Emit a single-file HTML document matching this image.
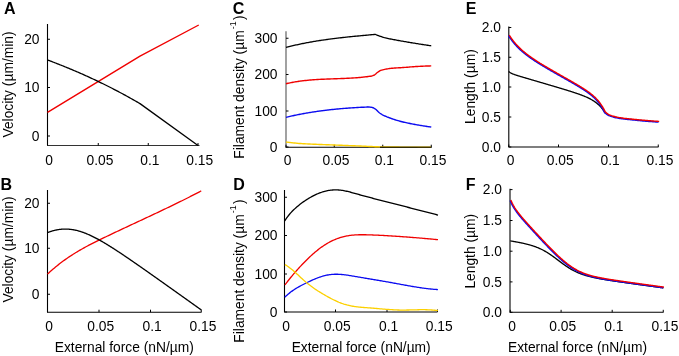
<!DOCTYPE html>
<html><head><meta charset="utf-8"><style>
html,body{margin:0;padding:0;background:#fff;width:679px;height:356px;overflow:hidden}
svg{display:block;will-change:transform}
text{font-family:"Liberation Sans", sans-serif;fill:#000}
</style></head><body>
<svg width="679" height="356" viewBox="0 0 679 356">
<text x="4.1" y="13.5" text-anchor="start" font-size="16" font-weight="bold" >A</text>
<line x1="47.5" y1="24" x2="47.5" y2="145.5" stroke="#000" stroke-width="1.1"/>
<line x1="47.0" y1="145.5" x2="199.5" y2="145.5" stroke="#333" stroke-width="1.1"/>
<line x1="47.5" y1="39.25" x2="50.0" y2="39.25" stroke="#000" stroke-width="1"/>
<line x1="47.5" y1="87.5" x2="50.0" y2="87.5" stroke="#000" stroke-width="1"/>
<line x1="47.5" y1="136.0" x2="50.0" y2="136.0" stroke="#000" stroke-width="1"/>
<line x1="47.5" y1="145.5" x2="47.5" y2="143.0" stroke="#000" stroke-width="1"/>
<line x1="98.25" y1="145.5" x2="98.25" y2="143.0" stroke="#000" stroke-width="1"/>
<line x1="148.25" y1="145.5" x2="148.25" y2="143.0" stroke="#000" stroke-width="1"/>
<line x1="198.0" y1="145.5" x2="198.0" y2="143.0" stroke="#000" stroke-width="1"/>
<text x="39.5" y="43.85" text-anchor="end" font-size="13.8" font-weight="normal" >20</text>
<text x="39.5" y="92.1" text-anchor="end" font-size="13.8" font-weight="normal" >10</text>
<text x="39.5" y="140.6" text-anchor="end" font-size="13.8" font-weight="normal" >0</text>
<text x="49.2" y="165.2" text-anchor="middle" font-size="13.8" font-weight="normal" >0</text>
<text x="99.95" y="165.2" text-anchor="middle" font-size="13.8" font-weight="normal" >0.05</text>
<text x="149.95" y="165.2" text-anchor="middle" font-size="13.8" font-weight="normal" >0.1</text>
<text x="199.7" y="165.2" text-anchor="middle" font-size="13.8" font-weight="normal" >0.15</text>
<path d="M47.50,112.40 L140.00,56.10 L198.75,25.00" fill="none" stroke="#f00000" stroke-width="1.4" stroke-linejoin="round" stroke-linecap="butt" />
<path d="M47.50,59.97 L48.50,60.34 L49.50,60.72 L50.50,61.10 L51.50,61.48 L52.50,61.86 L53.50,62.24 L54.50,62.63 L55.50,63.01 L56.50,63.40 L57.50,63.79 L58.50,64.18 L59.50,64.58 L60.50,64.98 L61.50,65.37 L62.50,65.77 L63.50,66.18 L64.50,66.58 L65.50,66.99 L66.50,67.40 L67.50,67.81 L68.50,68.22 L69.50,68.63 L70.50,69.05 L71.50,69.47 L72.50,69.89 L73.50,70.31 L74.50,70.74 L75.50,71.16 L76.50,71.59 L77.50,72.03 L78.50,72.46 L79.50,72.89 L80.50,73.33 L81.50,73.77 L82.50,74.21 L83.50,74.66 L84.50,75.11 L85.50,75.55 L86.50,76.01 L87.50,76.46 L88.50,76.91 L89.50,77.37 L90.50,77.83 L91.50,78.29 L92.50,78.76 L93.50,79.23 L94.50,79.69 L95.50,80.17 L96.50,80.64 L97.50,81.12 L98.50,81.59 L99.50,82.08 L100.50,82.56 L101.50,83.04 L102.50,83.53 L103.50,84.02 L104.50,84.52 L105.50,85.01 L106.50,85.51 L107.50,86.01 L108.50,86.51 L109.50,87.01 L110.50,87.52 L111.50,88.03 L112.50,88.54 L113.50,89.06 L114.50,89.58 L115.50,90.10 L116.50,90.62 L117.50,91.14 L118.50,91.67 L119.50,92.20 L120.50,92.73 L121.50,93.27 L122.50,93.80 L123.50,94.35 L124.50,94.89 L125.50,95.43 L126.50,95.98 L127.50,96.53 L128.50,97.08 L129.50,97.64 L130.50,98.20 L131.50,98.76 L132.50,99.32 L133.50,99.89 L134.50,100.46 L135.50,101.03 L136.50,101.61 L137.50,102.18 L138.50,102.76 L139.50,103.35 L140.00,103.64 L198,145.5" fill="none" stroke="#000" stroke-width="1.3" stroke-linejoin="round" stroke-linecap="butt" />
<text x="0" y="0" text-anchor="middle" font-size="13.8" transform="translate(12.8,84.5) rotate(-90)">Velocity (µm/min)</text>
<text x="0.4" y="189.6" text-anchor="start" font-size="16" font-weight="bold" >B</text>
<line x1="47.5" y1="190" x2="47.5" y2="312.2" stroke="#000" stroke-width="1.1"/>
<line x1="47.0" y1="312.2" x2="201.5" y2="312.2" stroke="#000" stroke-width="1.1"/>
<line x1="47.5" y1="203.25" x2="50.0" y2="203.25" stroke="#000" stroke-width="1"/>
<line x1="47.5" y1="248.25" x2="50.0" y2="248.25" stroke="#000" stroke-width="1"/>
<line x1="47.5" y1="294.25" x2="50.0" y2="294.25" stroke="#000" stroke-width="1"/>
<line x1="47.5" y1="312.2" x2="47.5" y2="309.7" stroke="#000" stroke-width="1"/>
<line x1="99.0" y1="312.2" x2="99.0" y2="309.7" stroke="#000" stroke-width="1"/>
<line x1="150.5" y1="312.2" x2="150.5" y2="309.7" stroke="#000" stroke-width="1"/>
<line x1="201.25" y1="312.2" x2="201.25" y2="309.7" stroke="#000" stroke-width="1"/>
<text x="39.5" y="207.85" text-anchor="end" font-size="13.8" font-weight="normal" >20</text>
<text x="39.5" y="252.85" text-anchor="end" font-size="13.8" font-weight="normal" >10</text>
<text x="39.5" y="298.85" text-anchor="end" font-size="13.8" font-weight="normal" >0</text>
<text x="49.2" y="331" text-anchor="middle" font-size="13.8" font-weight="normal" >0</text>
<text x="100.7" y="331" text-anchor="middle" font-size="13.8" font-weight="normal" >0.05</text>
<text x="152.2" y="331" text-anchor="middle" font-size="13.8" font-weight="normal" >0.1</text>
<text x="202.95" y="331" text-anchor="middle" font-size="13.8" font-weight="normal" >0.15</text>
<path d="M47.50,274.09 L48.50,273.16 L49.50,272.24 L50.50,271.34 L51.50,270.46 L52.50,269.58 L53.50,268.72 L54.50,267.88 L55.50,267.04 L56.50,266.23 L57.50,265.42 L58.50,264.63 L59.50,263.84 L60.50,263.07 L61.50,262.32 L62.50,261.57 L63.50,260.84 L64.50,260.11 L65.50,259.40 L66.50,258.70 L67.50,258.01 L68.50,257.32 L69.50,256.65 L70.50,255.99 L71.50,255.34 L72.50,254.69 L73.50,254.06 L74.50,253.43 L75.50,252.82 L76.50,252.21 L77.50,251.61 L78.50,251.01 L79.50,250.43 L80.50,249.85 L81.50,249.27 L82.50,248.71 L83.50,248.15 L84.50,247.60 L85.50,247.05 L86.50,246.51 L87.50,245.97 L88.50,245.44 L89.50,244.91 L90.50,244.39 L91.50,243.88 L92.50,243.36 L93.50,242.86 L94.50,242.35 L95.50,241.85 L96.50,241.35 L97.50,240.86 L98.50,240.36 L99.50,239.87 L100.50,239.39 L101.50,238.90 L102.50,238.42 L103.50,237.93 L104.50,237.45 L105.50,236.97 L106.50,236.49 L107.50,236.01 L108.50,235.54 L109.50,235.06 L110.50,234.58 L111.50,234.11 L112.50,233.63 L113.50,233.16 L114.50,232.69 L115.50,232.21 L116.50,231.74 L117.50,231.27 L118.50,230.80 L119.50,230.33 L120.50,229.86 L121.50,229.39 L122.50,228.92 L123.50,228.45 L124.50,227.98 L125.50,227.51 L126.50,227.04 L127.50,226.58 L128.50,226.11 L129.50,225.64 L130.50,225.18 L131.50,224.71 L132.50,224.24 L133.50,223.78 L134.50,223.31 L135.50,222.84 L136.50,222.38 L137.50,221.91 L138.50,221.44 L139.50,220.98 L140.50,220.51 L141.50,220.04 L142.50,219.58 L143.50,219.11 L144.50,218.64 L145.50,218.18 L146.50,217.71 L147.50,217.24 L148.50,216.77 L149.50,216.30 L150.50,215.83 L151.50,215.36 L152.50,214.89 L153.50,214.42 L154.50,213.95 L155.50,213.48 L156.50,213.01 L157.50,212.54 L158.50,212.07 L159.50,211.59 L160.50,211.12 L161.50,210.64 L162.50,210.17 L163.50,209.69 L164.50,209.21 L165.50,208.74 L166.50,208.26 L167.50,207.78 L168.50,207.30 L169.50,206.82 L170.50,206.33 L171.50,205.85 L172.50,205.37 L173.50,204.88 L174.50,204.39 L175.50,203.91 L176.50,203.42 L177.50,202.93 L178.50,202.44 L179.50,201.95 L180.50,201.45 L181.50,200.96 L182.50,200.46 L183.50,199.97 L184.50,199.47 L185.50,198.97 L186.50,198.47 L187.50,197.96 L188.50,197.46 L189.50,196.96 L190.50,196.45 L191.50,195.94 L192.50,195.43 L193.50,194.92 L194.50,194.41 L195.50,193.89 L196.50,193.37 L197.50,192.86 L198.50,192.34 L199.50,191.81 L200.50,191.29 L201.25,190.90" fill="none" stroke="#f00000" stroke-width="1.3" stroke-linejoin="round" stroke-linecap="butt" />
<path d="M47.80,232.48 L48.30,232.30 L48.80,232.11 L49.30,231.94 L49.80,231.76 L50.30,231.60 L50.80,231.44 L51.30,231.28 L51.80,231.13 L52.30,230.98 L52.80,230.84 L53.30,230.70 L53.80,230.57 L54.30,230.44 L54.80,230.32 L55.30,230.20 L55.80,230.09 L56.30,229.99 L56.80,229.89 L57.30,229.80 L57.80,229.71 L58.30,229.62 L58.80,229.55 L59.30,229.47 L59.80,229.41 L60.30,229.35 L60.80,229.29 L61.30,229.24 L61.80,229.20 L62.30,229.16 L62.80,229.13 L63.30,229.10 L63.80,229.08 L64.30,229.07 L64.80,229.06 L65.30,229.06 L65.80,229.06 L66.30,229.06 L66.80,229.08 L67.30,229.10 L67.80,229.12 L68.30,229.15 L68.80,229.19 L69.30,229.23 L69.80,229.28 L70.30,229.33 L70.80,229.39 L71.30,229.45 L71.80,229.52 L72.30,229.59 L72.80,229.67 L73.30,229.76 L73.80,229.84 L74.30,229.94 L74.80,230.04 L75.30,230.14 L75.80,230.25 L76.30,230.37 L76.80,230.49 L77.30,230.61 L77.80,230.74 L78.30,230.88 L78.80,231.02 L79.30,231.16 L79.80,231.31 L80.30,231.46 L80.80,231.62 L81.30,231.78 L81.80,231.95 L82.30,232.12 L82.80,232.29 L83.30,232.47 L83.80,232.65 L84.30,232.84 L84.80,233.03 L85.30,233.22 L85.80,233.42 L86.30,233.62 L86.80,233.83 L87.30,234.04 L87.80,234.25 L88.30,234.47 L88.80,234.68 L89.30,234.91 L89.80,235.13 L90.30,235.36 L90.80,235.60 L91.30,235.83 L91.80,236.07 L92.30,236.31 L92.80,236.56 L93.30,236.80 L93.80,237.05 L94.30,237.30 L94.80,237.56 L95.30,237.82 L95.80,238.08 L96.30,238.34 L96.80,238.61 L97.30,238.87 L97.80,239.14 L98.30,239.42 L98.80,239.69 L99.30,239.97 L99.80,240.25 L100.30,240.53 L100.80,240.81 L101.30,241.10 L101.80,241.38 L102.30,241.67 L102.80,241.96 L103.30,242.25 L103.80,242.55 L104.30,242.84 L104.80,243.14 L105.30,243.44 L105.80,243.74 L106.30,244.04 L106.80,244.35 L107.30,244.65 L107.80,244.96 L108.30,245.27 L108.80,245.58 L109.30,245.89 L109.80,246.20 L110.30,246.51 L110.80,246.83 L111.30,247.14 L111.80,247.46 L112.30,247.78 L112.80,248.09 L113.30,248.41 L113.80,248.74 L114.30,249.06 L114.80,249.38 L115.30,249.70 L115.80,250.03 L116.30,250.35 L116.80,250.68 L117.30,251.01 L117.80,251.34 L118.30,251.67 L118.80,252.00 L119.30,252.33 L119.80,252.66 L120.30,252.99 L120.80,253.32 L121.30,253.66 L121.80,253.99 L122.30,254.33 L122.80,254.66 L123.30,255.00 L123.80,255.33 L124.30,255.67 L124.80,256.01 L125.30,256.35 L125.80,256.69 L126.30,257.02 L126.80,257.36 L127.30,257.70 L127.80,258.05 L128.30,258.39 L128.80,258.73 L129.30,259.07 L129.80,259.41 L130.30,259.76 L130.80,260.10 L131.30,260.44 L131.80,260.79 L132.30,261.13 L132.80,261.48 L133.30,261.82 L133.80,262.17 L134.30,262.51 L134.80,262.86 L135.30,263.21 L135.80,263.55 L136.30,263.90 L136.80,264.25 L137.30,264.59 L137.80,264.94 L138.30,265.29 L138.80,265.64 L139.30,265.99 L139.80,266.34 L140.30,266.68 L140.80,267.03 L141.30,267.38 L141.80,267.73 L142.30,268.08 L142.80,268.43 L143.30,268.78 L143.80,269.13 L144.30,269.48 L144.80,269.83 L145.30,270.19 L145.80,270.54 L146.30,270.89 L146.80,271.24 L147.30,271.59 L147.80,271.94 L148.30,272.29 L148.80,272.65 L149.30,273.00 L149.80,273.35 L150.30,273.70 L150.80,274.06 L151.30,274.41 L151.80,274.76 L152.30,275.11 L152.80,275.47 L153.30,275.82 L153.80,276.17 L154.30,276.53 L154.80,276.88 L155.30,277.23 L155.80,277.59 L156.30,277.94 L156.80,278.30 L157.30,278.65 L157.80,279.00 L158.30,279.36 L158.80,279.71 L159.30,280.07 L159.80,280.42 L160.30,280.77 L160.80,281.13 L161.30,281.48 L161.80,281.84 L162.30,282.19 L162.80,282.55 L163.30,282.90 L163.80,283.26 L164.30,283.61 L164.80,283.97 L165.30,284.32 L165.80,284.68 L166.30,285.03 L166.80,285.39 L167.30,285.74 L167.80,286.10 L168.30,286.45 L168.80,286.81 L169.30,287.16 L169.80,287.52 L170.30,287.87 L170.80,288.23 L171.30,288.58 L171.80,288.94 L172.30,289.29 L172.80,289.65 L173.30,290.00 L173.80,290.36 L174.30,290.72 L174.80,291.07 L175.30,291.43 L175.80,291.78 L176.30,292.14 L176.80,292.49 L177.30,292.85 L177.80,293.21 L178.30,293.56 L178.80,293.92 L179.30,294.27 L179.80,294.63 L180.30,294.99 L180.80,295.34 L181.30,295.70 L181.80,296.05 L182.30,296.41 L182.80,296.77 L183.30,297.12 L183.80,297.48 L184.30,297.83 L184.80,298.19 L185.30,298.55 L185.80,298.90 L186.30,299.26 L186.80,299.61 L187.30,299.97 L187.80,300.33 L188.30,300.68 L188.80,301.04 L189.30,301.39 L189.80,301.75 L190.30,302.11 L190.80,302.46 L191.30,302.82 L191.80,303.18 L192.30,303.53 L192.80,303.89 L193.30,304.24 L193.80,304.60 L194.30,304.96 L194.80,305.31 L195.30,305.67 L195.80,306.03 L196.30,306.38 L196.80,306.74 L197.30,307.10 L197.80,307.45 L198.30,307.81 L198.80,308.16 L199.30,308.52 L199.80,308.88 L200.30,309.23 L200.80,309.59 L201.30,309.95" fill="none" stroke="#000" stroke-width="1.3" stroke-linejoin="round" stroke-linecap="butt" />
<text x="0" y="0" text-anchor="middle" font-size="13.8" transform="translate(12.8,249.5) rotate(-90)">Velocity (µm/min)</text>
<text x="124.3" y="352" text-anchor="middle" font-size="13.8" font-weight="normal" >External force (nN/µm)</text>
<text x="232.8" y="13.5" text-anchor="start" font-size="16" font-weight="bold" >C</text>
<line x1="286" y1="31.25" x2="286" y2="147.2" stroke="#555" stroke-width="1.1"/>
<line x1="285.5" y1="147.2" x2="431.5" y2="147.2" stroke="#000" stroke-width="1.1"/>
<line x1="286" y1="38.25" x2="288.5" y2="38.25" stroke="#000" stroke-width="1"/>
<line x1="286" y1="74.5" x2="288.5" y2="74.5" stroke="#000" stroke-width="1"/>
<line x1="286" y1="111.0" x2="288.5" y2="111.0" stroke="#000" stroke-width="1"/>
<line x1="286" y1="147.0" x2="288.5" y2="147.0" stroke="#000" stroke-width="1"/>
<line x1="286" y1="147.2" x2="286" y2="144.7" stroke="#000" stroke-width="1"/>
<line x1="334.25" y1="147.2" x2="334.25" y2="144.7" stroke="#000" stroke-width="1"/>
<line x1="382.75" y1="147.2" x2="382.75" y2="144.7" stroke="#000" stroke-width="1"/>
<line x1="431.25" y1="147.2" x2="431.25" y2="144.7" stroke="#000" stroke-width="1"/>
<text x="277.5" y="42.85" text-anchor="end" font-size="13.8" font-weight="normal" >300</text>
<text x="277.5" y="79.1" text-anchor="end" font-size="13.8" font-weight="normal" >200</text>
<text x="277.5" y="115.6" text-anchor="end" font-size="13.8" font-weight="normal" >100</text>
<text x="277.5" y="151.6" text-anchor="end" font-size="13.8" font-weight="normal" >0</text>
<text x="287.7" y="165.2" text-anchor="middle" font-size="13.8" font-weight="normal" >0</text>
<text x="335.95" y="165.2" text-anchor="middle" font-size="13.8" font-weight="normal" >0.05</text>
<text x="384.45" y="165.2" text-anchor="middle" font-size="13.8" font-weight="normal" >0.1</text>
<text x="432.95" y="165.2" text-anchor="middle" font-size="13.8" font-weight="normal" >0.15</text>
<path d="M286.00,47.42 L287.00,47.16 L288.00,46.90 L289.00,46.65 L290.00,46.40 L291.00,46.16 L292.00,45.92 L293.00,45.68 L294.00,45.45 L295.00,45.22 L296.00,44.99 L297.00,44.77 L298.00,44.55 L299.00,44.33 L300.00,44.12 L301.00,43.91 L302.00,43.71 L303.00,43.50 L304.00,43.30 L305.00,43.11 L306.00,42.91 L307.00,42.72 L308.00,42.54 L309.00,42.35 L310.00,42.17 L311.00,41.99 L312.00,41.82 L313.00,41.64 L314.00,41.47 L315.00,41.31 L316.00,41.14 L317.00,40.98 L318.00,40.82 L319.00,40.66 L320.00,40.51 L321.00,40.35 L322.00,40.20 L323.00,40.06 L324.00,39.91 L325.00,39.77 L326.00,39.63 L327.00,39.49 L328.00,39.35 L329.00,39.21 L330.00,39.08 L331.00,38.95 L332.00,38.82 L333.00,38.69 L334.00,38.57 L335.00,38.44 L336.00,38.32 L337.00,38.20 L338.00,38.08 L339.00,37.97 L340.00,37.85 L341.00,37.74 L342.00,37.62 L343.00,37.51 L344.00,37.40 L345.00,37.29 L346.00,37.19 L347.00,37.08 L348.00,36.97 L349.00,36.87 L350.00,36.77 L351.00,36.67 L352.00,36.56 L353.00,36.46 L354.00,36.37 L355.00,36.27 L356.00,36.17 L357.00,36.07 L358.00,35.98 L359.00,35.88 L360.00,35.79 L361.00,35.69 L362.00,35.60 L363.00,35.51 L364.00,35.41 L365.00,35.32 L366.00,35.23 L367.00,35.14 L368.00,35.05 L369.00,34.95 L370.00,34.86 L371.00,34.77 L372.00,34.68 L373.00,34.59 L374.00,34.50 L375.00,34.41 L375.50,34.36 L375.50,34.50 L376.50,34.90 L377.50,35.29 L378.50,35.66 L379.50,36.02 L380.50,36.37 L381.50,36.72 L382.50,37.06 L383.50,37.38 L384.50,37.67 L385.50,37.93 L386.50,38.17 L387.50,38.39 L388.50,38.61 L389.50,38.81 L390.50,39.01 L391.50,39.20 L392.50,39.39 L393.50,39.57 L394.50,39.75 L395.50,39.93 L396.50,40.11 L397.50,40.30 L398.50,40.49 L399.50,40.67 L400.50,40.85 L401.50,41.03 L402.50,41.21 L403.50,41.38 L404.50,41.55 L405.50,41.73 L406.50,41.90 L407.50,42.07 L408.50,42.24 L409.50,42.40 L410.50,42.57 L411.50,42.74 L412.50,42.90 L413.50,43.06 L414.50,43.23 L415.50,43.39 L416.50,43.55 L417.50,43.71 L418.50,43.86 L419.50,44.02 L420.50,44.18 L421.50,44.33 L422.50,44.49 L423.50,44.64 L424.50,44.79 L425.50,44.95 L426.50,45.10 L427.50,45.25 L428.50,45.40 L429.50,45.54 L430.50,45.69 L431.25,45.80" fill="none" stroke="#000" stroke-width="1.3" stroke-linejoin="round" stroke-linecap="butt" />
<path d="M286.00,83.74 L287.00,83.51 L288.00,83.28 L289.00,83.07 L290.00,82.86 L291.00,82.65 L292.00,82.46 L293.00,82.27 L294.00,82.09 L295.00,81.92 L296.00,81.76 L297.00,81.60 L298.00,81.44 L299.00,81.30 L300.00,81.16 L301.00,81.02 L302.00,80.89 L303.00,80.77 L304.00,80.65 L305.00,80.54 L306.00,80.43 L307.00,80.33 L308.00,80.23 L309.00,80.14 L310.00,80.05 L311.00,79.97 L312.00,79.89 L313.00,79.81 L314.00,79.74 L315.00,79.67 L316.00,79.60 L317.00,79.54 L318.00,79.48 L319.00,79.42 L320.00,79.37 L321.00,79.32 L322.00,79.27 L323.00,79.22 L324.00,79.18 L325.00,79.13 L326.00,79.09 L327.00,79.05 L328.00,79.01 L329.00,78.98 L330.00,78.94 L331.00,78.90 L332.00,78.87 L333.00,78.83 L334.00,78.80 L335.00,78.76 L336.00,78.73 L337.00,78.69 L338.00,78.66 L339.00,78.62 L340.00,78.59 L341.00,78.55 L342.00,78.51 L343.00,78.47 L344.00,78.43 L345.00,78.38 L346.00,78.34 L347.00,78.29 L348.00,78.24 L349.00,78.19 L350.00,78.14 L351.00,78.08 L352.00,78.02 L353.00,77.96 L354.00,77.90 L355.00,77.83 L356.00,77.75 L357.00,77.68 L358.00,77.60 L359.00,77.51 L360.00,77.43 L361.00,77.33 L362.00,77.24 L363.00,77.14 L364.00,77.03 L365.00,76.92 L366.00,76.80 L367.00,76.68 L368.00,76.55 L369.00,76.42 L369.70,76.32 L369.70,76.30 L370.70,76.22 L371.70,75.99 L372.70,75.66 L373.70,75.27 L374.70,74.76 L375.70,73.91 L376.70,73.01 L377.70,72.27 L378.70,71.57 L379.70,70.93 L380.70,70.44 L381.70,70.09 L382.70,69.81 L383.70,69.57 L384.70,69.36 L385.70,69.17 L386.70,68.99 L387.70,68.83 L388.70,68.68 L389.70,68.54 L390.70,68.42 L391.70,68.31 L392.70,68.22 L393.70,68.13 L394.70,68.05 L395.70,67.98 L396.70,67.92 L397.70,67.85 L398.70,67.79 L399.70,67.73 L400.70,67.68 L401.70,67.62 L402.70,67.56 L403.70,67.49 L404.70,67.42 L405.70,67.35 L406.70,67.27 L407.70,67.18 L408.70,67.09 L409.70,67.01 L410.70,66.92 L411.70,66.83 L412.70,66.76 L413.70,66.68 L414.70,66.62 L415.70,66.56 L416.70,66.50 L417.70,66.45 L418.70,66.39 L419.70,66.34 L420.70,66.29 L421.70,66.24 L422.70,66.19 L423.70,66.15 L424.70,66.11 L425.70,66.07 L426.70,66.03 L427.70,65.99 L428.70,65.96 L429.70,65.94 L430.70,65.91 L431.25,65.90" fill="none" stroke="#f00000" stroke-width="1.4" stroke-linejoin="round" stroke-linecap="butt" />
<path d="M286.00,117.31 L287.00,117.07 L288.00,116.84 L289.00,116.61 L290.00,116.38 L291.00,116.16 L292.00,115.94 L293.00,115.72 L294.00,115.51 L295.00,115.30 L296.00,115.09 L297.00,114.88 L298.00,114.68 L299.00,114.49 L300.00,114.29 L301.00,114.10 L302.00,113.91 L303.00,113.72 L304.00,113.54 L305.00,113.36 L306.00,113.18 L307.00,113.01 L308.00,112.84 L309.00,112.67 L310.00,112.50 L311.00,112.34 L312.00,112.18 L313.00,112.02 L314.00,111.87 L315.00,111.72 L316.00,111.57 L317.00,111.42 L318.00,111.28 L319.00,111.14 L320.00,111.00 L321.00,110.86 L322.00,110.73 L323.00,110.60 L324.00,110.47 L325.00,110.35 L326.00,110.22 L327.00,110.10 L328.00,109.99 L329.00,109.87 L330.00,109.76 L331.00,109.65 L332.00,109.54 L333.00,109.43 L334.00,109.33 L335.00,109.23 L336.00,109.13 L337.00,109.03 L338.00,108.93 L339.00,108.84 L340.00,108.75 L341.00,108.66 L342.00,108.58 L343.00,108.49 L344.00,108.41 L345.00,108.33 L346.00,108.25 L347.00,108.18 L348.00,108.10 L349.00,108.03 L350.00,107.96 L351.00,107.90 L352.00,107.83 L353.00,107.77 L354.00,107.70 L355.00,107.64 L356.00,107.58 L357.00,107.53 L358.00,107.47 L359.00,107.42 L360.00,107.37 L361.00,107.32 L362.00,107.27 L363.00,107.22 L364.00,107.18 L365.00,107.14 L366.00,107.10 L367.00,107.06 L368.00,107.02 L368.00,107.00 L369.00,107.03 L370.00,107.11 L371.00,107.23 L372.00,107.40 L373.00,107.75 L374.00,108.24 L375.00,108.80 L376.00,109.54 L377.00,110.51 L378.00,111.54 L379.00,112.50 L380.00,113.25 L381.00,113.91 L382.00,114.51 L383.00,115.05 L384.00,115.54 L385.00,116.01 L386.00,116.45 L387.00,116.87 L388.00,117.26 L389.00,117.65 L390.00,118.02 L391.00,118.38 L392.00,118.73 L393.00,119.08 L394.00,119.41 L395.00,119.73 L396.00,120.05 L397.00,120.35 L398.00,120.65 L399.00,120.93 L400.00,121.20 L401.00,121.46 L402.00,121.72 L403.00,121.97 L404.00,122.21 L405.00,122.44 L406.00,122.66 L407.00,122.88 L408.00,123.10 L409.00,123.30 L410.00,123.50 L411.00,123.69 L412.00,123.89 L413.00,124.08 L414.00,124.27 L415.00,124.45 L416.00,124.64 L417.00,124.82 L418.00,125.00 L419.00,125.17 L420.00,125.34 L421.00,125.51 L422.00,125.68 L423.00,125.84 L424.00,126.00 L425.00,126.15 L426.00,126.30 L427.00,126.44 L428.00,126.58 L429.00,126.72 L430.00,126.85 L431.00,126.97 L431.25,127.00" fill="none" stroke="#0a0af0" stroke-width="1.4" stroke-linejoin="round" stroke-linecap="butt" />
<path d="M286.00,142.00 L287.00,142.13 L288.00,142.25 L289.00,142.38 L290.00,142.50 L291.00,142.62 L292.00,142.74 L293.00,142.85 L294.00,142.96 L295.00,143.07 L296.00,143.17 L297.00,143.26 L298.00,143.35 L299.00,143.43 L300.00,143.50 L301.00,143.57 L302.00,143.63 L303.00,143.69 L304.00,143.75 L305.00,143.80 L306.00,143.86 L307.00,143.91 L308.00,143.96 L309.00,144.01 L310.00,144.06 L311.00,144.10 L312.00,144.15 L313.00,144.19 L314.00,144.24 L315.00,144.28 L316.00,144.32 L317.00,144.36 L318.00,144.40 L319.00,144.44 L320.00,144.47 L321.00,144.51 L322.00,144.55 L323.00,144.58 L324.00,144.62 L325.00,144.66 L326.00,144.69 L327.00,144.73 L328.00,144.77 L329.00,144.80 L330.00,144.84 L331.00,144.88 L332.00,144.92 L333.00,144.96 L334.00,145.00 L335.00,145.04 L336.00,145.08 L337.00,145.12 L338.00,145.16 L339.00,145.20 L340.00,145.24 L341.00,145.28 L342.00,145.32 L343.00,145.35 L344.00,145.39 L345.00,145.43 L346.00,145.47 L347.00,145.50 L348.00,145.54 L349.00,145.58 L350.00,145.62 L351.00,145.65 L352.00,145.69 L353.00,145.73 L354.00,145.77 L355.00,145.81 L356.00,145.84 L357.00,145.88 L358.00,145.92 L359.00,145.96 L360.00,146.00 L361.00,146.04 L362.00,146.08 L363.00,146.13 L364.00,146.18 L365.00,146.23 L366.00,146.28 L367.00,146.33 L368.00,146.38 L369.00,146.43 L370.00,146.48 L371.00,146.53 L372.00,146.57 L373.00,146.62 L374.00,146.66 L375.00,146.71 L376.00,146.75 L377.00,146.78 L378.00,146.81 L379.00,146.84 L380.00,146.87 L381.00,146.89 L382.00,146.90 L383.00,146.91 L384.00,146.92 L385.00,146.93 L386.00,146.95 L387.00,146.96 L388.00,146.97 L389.00,146.98 L390.00,146.99 L391.00,147.00 L392.00,147.01 L393.00,147.02 L394.00,147.03 L395.00,147.03 L396.00,147.04 L397.00,147.05 L398.00,147.06 L399.00,147.07 L400.00,147.08 L401.00,147.08 L402.00,147.09 L403.00,147.10 L404.00,147.11 L405.00,147.11 L406.00,147.12 L407.00,147.13 L408.00,147.13 L409.00,147.14 L410.00,147.14 L411.00,147.15 L412.00,147.15 L413.00,147.16 L414.00,147.16 L415.00,147.17 L416.00,147.17 L417.00,147.17 L418.00,147.18 L419.00,147.18 L420.00,147.18 L421.00,147.19 L422.00,147.19 L423.00,147.19 L424.00,147.19 L425.00,147.20 L426.00,147.20 L427.00,147.20 L428.00,147.20 L429.00,147.20 L430.00,147.20 L431.00,147.20" fill="none" stroke="#fcd000" stroke-width="1.4" stroke-linejoin="round" stroke-linecap="butt" />
<line x1="380" y1="147.2" x2="431.5" y2="147.2" stroke="#000" stroke-width="1.1"/>
<text x="0" y="0" text-anchor="middle" font-size="13.8" transform="translate(243.8,87) rotate(-90)">Filament density (µm<tspan dx='1.2' dy='-8' font-size='9'>-1</tspan><tspan dx='1.2' dy='8'>)</tspan></text>
<text x="233.3" y="189.8" text-anchor="start" font-size="16" font-weight="bold" >D</text>
<line x1="284.5" y1="190" x2="284.5" y2="312" stroke="#000" stroke-width="1.1"/>
<line x1="284.0" y1="312" x2="437.5" y2="312" stroke="#000" stroke-width="1.1"/>
<line x1="284.5" y1="197.25" x2="287.0" y2="197.25" stroke="#000" stroke-width="1"/>
<line x1="284.5" y1="235.5" x2="287.0" y2="235.5" stroke="#000" stroke-width="1"/>
<line x1="284.5" y1="274.0" x2="287.0" y2="274.0" stroke="#000" stroke-width="1"/>
<line x1="284.5" y1="312.0" x2="287.0" y2="312.0" stroke="#000" stroke-width="1"/>
<line x1="284.5" y1="312" x2="284.5" y2="309.5" stroke="#000" stroke-width="1"/>
<line x1="335.5" y1="312" x2="335.5" y2="309.5" stroke="#000" stroke-width="1"/>
<line x1="387.0" y1="312" x2="387.0" y2="309.5" stroke="#000" stroke-width="1"/>
<line x1="437.5" y1="312" x2="437.5" y2="309.5" stroke="#000" stroke-width="1"/>
<text x="277.5" y="201.85" text-anchor="end" font-size="13.8" font-weight="normal" >300</text>
<text x="277.5" y="240.1" text-anchor="end" font-size="13.8" font-weight="normal" >200</text>
<text x="277.5" y="278.6" text-anchor="end" font-size="13.8" font-weight="normal" >100</text>
<text x="277.5" y="316.6" text-anchor="end" font-size="13.8" font-weight="normal" >0</text>
<text x="286.2" y="331" text-anchor="middle" font-size="13.8" font-weight="normal" >0</text>
<text x="337.2" y="331" text-anchor="middle" font-size="13.8" font-weight="normal" >0.05</text>
<text x="388.7" y="331" text-anchor="middle" font-size="13.8" font-weight="normal" >0.1</text>
<text x="439.2" y="331" text-anchor="middle" font-size="13.8" font-weight="normal" >0.15</text>
<path d="M284.70,221.00 L285.70,219.42 L286.70,217.94 L287.70,216.56 L288.70,215.26 L289.70,214.05 L290.70,212.90 L291.70,211.82 L292.70,210.80 L293.70,209.82 L294.70,208.88 L295.70,207.97 L296.70,207.08 L297.70,206.23 L298.70,205.39 L299.70,204.59 L300.70,203.81 L301.70,203.05 L302.70,202.31 L303.70,201.60 L304.70,200.91 L305.70,200.24 L306.70,199.59 L307.70,198.96 L308.70,198.36 L309.70,197.77 L310.70,197.20 L311.70,196.65 L312.70,196.12 L313.70,195.61 L314.70,195.11 L315.70,194.64 L316.70,194.19 L317.70,193.76 L318.70,193.35 L319.70,192.96 L320.70,192.60 L321.70,192.25 L322.70,191.93 L323.70,191.63 L324.70,191.35 L325.70,191.10 L326.70,190.87 L327.70,190.66 L328.70,190.48 L329.70,190.32 L330.70,190.19 L331.70,190.08 L332.70,189.99 L333.70,189.93 L334.70,189.89 L335.70,189.87 L336.70,189.88 L337.70,189.92 L338.70,189.98 L339.70,190.06 L340.70,190.17 L341.70,190.30 L342.70,190.45 L343.70,190.63 L344.70,190.82 L345.70,191.03 L346.70,191.25 L347.70,191.48 L348.70,191.73 L349.70,191.99 L350.70,192.25 L351.70,192.53 L352.70,192.80 L353.70,193.08 L354.70,193.36 L355.70,193.64 L356.70,193.92 L357.70,194.20 L358.70,194.47 L359.70,194.75 L360.70,195.02 L361.70,195.30 L362.70,195.57 L363.70,195.84 L364.70,196.11 L365.70,196.38 L366.70,196.65 L367.70,196.92 L368.70,197.19 L369.70,197.46 L370.70,197.72 L371.70,197.99 L372.70,198.25 L373.70,198.52 L374.70,198.78 L375.70,199.04 L376.70,199.30 L377.70,199.57 L378.70,199.83 L379.70,200.09 L380.70,200.35 L381.70,200.61 L382.70,200.86 L383.70,201.12 L384.70,201.38 L385.70,201.64 L386.70,201.90 L387.70,202.15 L388.70,202.41 L389.70,202.66 L390.70,202.92 L391.70,203.18 L392.70,203.43 L393.70,203.69 L394.70,203.94 L395.70,204.20 L396.70,204.45 L397.70,204.70 L398.70,204.96 L399.70,205.21 L400.70,205.47 L401.70,205.72 L402.70,205.97 L403.70,206.23 L404.70,206.48 L405.70,206.74 L406.70,206.99 L407.70,207.25 L408.70,207.50 L409.70,207.75 L410.70,208.01 L411.70,208.26 L412.70,208.52 L413.70,208.77 L414.70,209.03 L415.70,209.28 L416.70,209.54 L417.70,209.80 L418.70,210.05 L419.70,210.31 L420.70,210.57 L421.70,210.82 L422.70,211.08 L423.70,211.34 L424.70,211.60 L425.70,211.86 L426.70,212.12 L427.70,212.38 L428.70,212.64 L429.70,212.90 L430.70,213.17 L431.70,213.43 L432.70,213.69 L433.70,213.96 L434.70,214.22 L435.70,214.49 L436.70,214.75 L437.70,215.02 L438.00,215.10" fill="none" stroke="#000" stroke-width="1.3" stroke-linejoin="round" stroke-linecap="butt" />
<path d="M284.90,284.89 L285.90,283.58 L286.90,282.29 L287.90,281.01 L288.90,279.75 L289.90,278.50 L290.90,277.27 L291.90,276.06 L292.90,274.86 L293.90,273.68 L294.90,272.51 L295.90,271.36 L296.90,270.22 L297.90,269.10 L298.90,268.00 L299.90,266.91 L300.90,265.83 L301.90,264.77 L302.90,263.72 L303.90,262.69 L304.90,261.67 L305.90,260.67 L306.90,259.68 L307.90,258.70 L308.90,257.74 L309.90,256.80 L310.90,255.87 L311.90,254.96 L312.90,254.07 L313.90,253.19 L314.90,252.33 L315.90,251.49 L316.90,250.67 L317.90,249.87 L318.90,249.09 L319.90,248.33 L320.90,247.59 L321.90,246.87 L322.90,246.17 L323.90,245.50 L324.90,244.85 L325.90,244.22 L326.90,243.61 L327.90,243.03 L328.90,242.46 L329.90,241.92 L330.90,241.41 L331.90,240.91 L332.90,240.44 L333.90,239.99 L334.90,239.55 L335.90,239.14 L336.90,238.75 L337.90,238.38 L338.90,238.03 L339.90,237.71 L340.90,237.40 L341.90,237.11 L342.90,236.84 L343.90,236.59 L344.90,236.35 L345.90,236.14 L346.90,235.95 L347.90,235.77 L348.90,235.61 L349.90,235.46 L350.90,235.33 L351.90,235.22 L352.90,235.12 L353.90,235.03 L354.90,234.95 L355.90,234.89 L356.90,234.84 L357.90,234.80 L358.90,234.77 L359.90,234.75 L360.90,234.73 L361.90,234.73 L362.90,234.73 L363.90,234.74 L364.90,234.75 L365.90,234.77 L366.90,234.80 L367.90,234.82 L368.90,234.85 L369.90,234.89 L370.90,234.92 L371.90,234.96 L372.90,235.00 L373.90,235.04 L374.90,235.08 L375.90,235.12 L376.90,235.16 L377.90,235.21 L378.90,235.26 L379.90,235.31 L380.90,235.36 L381.90,235.41 L382.90,235.46 L383.90,235.51 L384.90,235.57 L385.90,235.62 L386.90,235.68 L387.90,235.74 L388.90,235.80 L389.90,235.86 L390.90,235.92 L391.90,235.98 L392.90,236.05 L393.90,236.11 L394.90,236.18 L395.90,236.24 L396.90,236.31 L397.90,236.38 L398.90,236.45 L399.90,236.51 L400.90,236.58 L401.90,236.66 L402.90,236.73 L403.90,236.80 L404.90,236.87 L405.90,236.95 L406.90,237.02 L407.90,237.09 L408.90,237.17 L409.90,237.25 L410.90,237.32 L411.90,237.40 L412.90,237.48 L413.90,237.56 L414.90,237.64 L415.90,237.72 L416.90,237.80 L417.90,237.88 L418.90,237.97 L419.90,238.05 L420.90,238.14 L421.90,238.22 L422.90,238.31 L423.90,238.39 L424.90,238.48 L425.90,238.57 L426.90,238.66 L427.90,238.75 L428.90,238.84 L429.90,238.93 L430.90,239.02 L431.90,239.12 L432.90,239.21 L433.90,239.30 L434.90,239.40 L435.90,239.50 L436.90,239.59 L437.90,239.69 L438.00,239.70" fill="none" stroke="#f00000" stroke-width="1.3" stroke-linejoin="round" stroke-linecap="butt" />
<path d="M284.70,297.30 L285.70,296.33 L286.70,295.41 L287.70,294.53 L288.70,293.68 L289.70,292.87 L290.70,292.10 L291.70,291.35 L292.70,290.64 L293.70,289.96 L294.70,289.30 L295.70,288.67 L296.70,288.05 L297.70,287.46 L298.70,286.89 L299.70,286.34 L300.70,285.79 L301.70,285.27 L302.70,284.75 L303.70,284.24 L304.70,283.74 L305.70,283.24 L306.70,282.75 L307.70,282.26 L308.70,281.78 L309.70,281.31 L310.70,280.84 L311.70,280.39 L312.70,279.94 L313.70,279.50 L314.70,279.08 L315.70,278.67 L316.70,278.27 L317.70,277.88 L318.70,277.51 L319.70,277.16 L320.70,276.82 L321.70,276.50 L322.70,276.20 L323.70,275.91 L324.70,275.65 L325.70,275.41 L326.70,275.19 L327.70,274.99 L328.70,274.81 L329.70,274.66 L330.70,274.53 L331.70,274.42 L332.70,274.34 L333.70,274.29 L334.70,274.25 L335.70,274.23 L336.70,274.24 L337.70,274.26 L338.70,274.29 L339.70,274.35 L340.70,274.42 L341.70,274.50 L342.70,274.59 L343.70,274.70 L344.70,274.82 L345.70,274.95 L346.70,275.09 L347.70,275.23 L348.70,275.38 L349.70,275.54 L350.70,275.70 L351.70,275.87 L352.70,276.04 L353.70,276.21 L354.70,276.38 L355.70,276.55 L356.70,276.72 L357.70,276.89 L358.70,277.06 L359.70,277.23 L360.70,277.40 L361.70,277.57 L362.70,277.73 L363.70,277.90 L364.70,278.07 L365.70,278.24 L366.70,278.40 L367.70,278.57 L368.70,278.74 L369.70,278.90 L370.70,279.07 L371.70,279.24 L372.70,279.40 L373.70,279.57 L374.70,279.74 L375.70,279.91 L376.70,280.08 L377.70,280.24 L378.70,280.41 L379.70,280.58 L380.70,280.75 L381.70,280.93 L382.70,281.10 L383.70,281.27 L384.70,281.45 L385.70,281.62 L386.70,281.80 L387.70,281.97 L388.70,282.15 L389.70,282.33 L390.70,282.51 L391.70,282.69 L392.70,282.87 L393.70,283.06 L394.70,283.24 L395.70,283.43 L396.70,283.61 L397.70,283.80 L398.70,283.98 L399.70,284.16 L400.70,284.35 L401.70,284.53 L402.70,284.72 L403.70,284.90 L404.70,285.08 L405.70,285.26 L406.70,285.44 L407.70,285.62 L408.70,285.80 L409.70,285.97 L410.70,286.15 L411.70,286.32 L412.70,286.49 L413.70,286.65 L414.70,286.82 L415.70,286.98 L416.70,287.14 L417.70,287.30 L418.70,287.45 L419.70,287.60 L420.70,287.75 L421.70,287.89 L422.70,288.03 L423.70,288.17 L424.70,288.30 L425.70,288.43 L426.70,288.55 L427.70,288.67 L428.70,288.78 L429.70,288.89 L430.70,289.00 L431.70,289.10 L432.70,289.19 L433.70,289.28 L434.70,289.37 L435.70,289.45 L436.70,289.52 L437.70,289.59 L437.90,289.60" fill="none" stroke="#0a0af0" stroke-width="1.3" stroke-linejoin="round" stroke-linecap="butt" />
<path d="M284.90,264.60 L285.90,265.16 L286.90,265.78 L287.90,266.44 L288.90,267.15 L289.90,267.90 L290.90,268.68 L291.90,269.50 L292.90,270.34 L293.90,271.21 L294.90,272.10 L295.90,273.01 L296.90,273.93 L297.90,274.85 L298.90,275.79 L299.90,276.72 L300.90,277.65 L301.90,278.57 L302.90,279.49 L303.90,280.38 L304.90,281.26 L305.90,282.12 L306.90,282.96 L307.90,283.77 L308.90,284.56 L309.90,285.34 L310.90,286.09 L311.90,286.83 L312.90,287.55 L313.90,288.25 L314.90,288.94 L315.90,289.61 L316.90,290.27 L317.90,290.92 L318.90,291.55 L319.90,292.17 L320.90,292.78 L321.90,293.38 L322.90,293.98 L323.90,294.56 L324.90,295.14 L325.90,295.71 L326.90,296.28 L327.90,296.83 L328.90,297.38 L329.90,297.92 L330.90,298.45 L331.90,298.97 L332.90,299.47 L333.90,299.97 L334.90,300.45 L335.90,300.92 L336.90,301.37 L337.90,301.81 L338.90,302.24 L339.90,302.64 L340.90,303.03 L341.90,303.41 L342.90,303.76 L343.90,304.10 L344.90,304.41 L345.90,304.70 L346.90,304.98 L347.90,305.23 L348.90,305.47 L349.90,305.69 L350.90,305.89 L351.90,306.08 L352.90,306.26 L353.90,306.42 L354.90,306.56 L355.90,306.70 L356.90,306.83 L357.90,306.94 L358.90,307.05 L359.90,307.15 L360.90,307.24 L361.90,307.33 L362.90,307.41 L363.90,307.49 L364.90,307.57 L365.90,307.64 L366.90,307.71 L367.90,307.79 L368.90,307.86 L369.90,307.93 L370.90,308.01 L371.90,308.09 L372.90,308.17 L373.90,308.26 L374.90,308.34 L375.90,308.43 L376.90,308.52 L377.90,308.60 L378.90,308.69 L379.90,308.78 L380.90,308.87 L381.90,308.95 L382.90,309.04 L383.90,309.12 L384.90,309.21 L385.90,309.29 L386.90,309.37 L387.90,309.44 L388.90,309.52 L389.90,309.59 L390.90,309.65 L391.90,309.71 L392.90,309.77 L393.90,309.83 L394.90,309.88 L395.90,309.92 L396.90,309.96 L397.90,309.99 L398.90,310.02 L399.90,310.04 L400.90,310.05 L401.90,310.06 L402.90,310.06 L403.90,310.06 L404.90,310.05 L405.90,310.04 L406.90,310.02 L407.90,310.00 L408.90,309.98 L409.90,309.96 L410.90,309.93 L411.90,309.90 L412.90,309.88 L413.90,309.85 L414.90,309.83 L415.90,309.80 L416.90,309.78 L417.90,309.76 L418.90,309.74 L419.90,309.72 L420.90,309.71 L421.90,309.70 L422.90,309.70 L423.90,309.70 L424.90,309.71 L425.90,309.73 L426.90,309.75 L427.90,309.78 L428.90,309.82 L429.90,309.86 L430.90,309.92 L431.90,309.98 L432.90,310.06 L433.90,310.14 L434.90,310.24 L435.90,310.35 L436.90,310.47 L437.90,310.60" fill="none" stroke="#fcd000" stroke-width="1.3" stroke-linejoin="round" stroke-linecap="butt" />
<text x="0" y="0" text-anchor="middle" font-size="13.8" transform="translate(243.8,271) rotate(-90)">Filament density (µm<tspan dx='1.2' dy='-8' font-size='9'>-1</tspan><tspan dx='1.2' dy='8'>)</tspan></text>
<text x="361.2" y="352" text-anchor="middle" font-size="13.8" font-weight="normal" >External force (nN/µm)</text>
<text x="465.8" y="13.5" text-anchor="start" font-size="16" font-weight="bold" >E</text>
<line x1="508.8" y1="26.5" x2="508.8" y2="147" stroke="#000" stroke-width="1.1"/>
<line x1="508.3" y1="147" x2="658.5" y2="147" stroke="#000" stroke-width="1.1"/>
<line x1="508.8" y1="27.5" x2="511.3" y2="27.5" stroke="#000" stroke-width="1"/>
<line x1="508.8" y1="57.25" x2="511.3" y2="57.25" stroke="#000" stroke-width="1"/>
<line x1="508.8" y1="87.0" x2="511.3" y2="87.0" stroke="#000" stroke-width="1"/>
<line x1="508.8" y1="117.0" x2="511.3" y2="117.0" stroke="#000" stroke-width="1"/>
<line x1="508.8" y1="147.0" x2="511.3" y2="147.0" stroke="#000" stroke-width="1"/>
<line x1="508.8" y1="147" x2="508.8" y2="144.5" stroke="#000" stroke-width="1"/>
<line x1="558.5" y1="147" x2="558.5" y2="144.5" stroke="#000" stroke-width="1"/>
<line x1="608.5" y1="147" x2="608.5" y2="144.5" stroke="#000" stroke-width="1"/>
<line x1="658.25" y1="147" x2="658.25" y2="144.5" stroke="#000" stroke-width="1"/>
<text x="501" y="32.1" text-anchor="end" font-size="13.8" font-weight="normal" >2.0</text>
<text x="501" y="61.85" text-anchor="end" font-size="13.8" font-weight="normal" >1.5</text>
<text x="501" y="91.6" text-anchor="end" font-size="13.8" font-weight="normal" >1.0</text>
<text x="501" y="121.6" text-anchor="end" font-size="13.8" font-weight="normal" >0.5</text>
<text x="501" y="151.6" text-anchor="end" font-size="13.8" font-weight="normal" >0.0</text>
<text x="510.5" y="165.2" text-anchor="middle" font-size="13.8" font-weight="normal" >0</text>
<text x="560.2" y="165.2" text-anchor="middle" font-size="13.8" font-weight="normal" >0.05</text>
<text x="610.2" y="165.2" text-anchor="middle" font-size="13.8" font-weight="normal" >0.1</text>
<text x="659.95" y="165.2" text-anchor="middle" font-size="13.8" font-weight="normal" >0.15</text>
<path d="M508.65,71.40 L509.15,71.83 L509.65,72.21 L510.15,72.54 L510.65,72.85 L511.15,73.13 L511.65,73.38 L512.15,73.62 L512.65,73.84 L513.15,74.05 L513.65,74.25 L514.15,74.43 L514.65,74.62 L515.15,74.79 L515.65,74.96 L516.15,75.13 L516.65,75.29 L517.15,75.45 L517.65,75.61 L518.15,75.76 L518.65,75.92 L519.15,76.07 L519.65,76.22 L520.15,76.37 L520.65,76.52 L521.15,76.67 L521.65,76.82 L522.15,76.97 L522.65,77.12 L523.15,77.27 L523.65,77.41 L524.15,77.56 L524.65,77.71 L525.15,77.86 L525.65,78.00 L526.15,78.15 L526.65,78.30 L527.15,78.44 L527.65,78.59 L528.15,78.74 L528.65,78.88 L529.15,79.03 L529.65,79.18 L530.15,79.32 L530.65,79.47 L531.15,79.62 L531.65,79.76 L532.15,79.91 L532.65,80.06 L533.15,80.20 L533.65,80.35 L534.15,80.50 L534.65,80.64 L535.15,80.79 L535.65,80.94 L536.15,81.08 L536.65,81.23 L537.15,81.38 L537.65,81.52 L538.15,81.67 L538.65,81.82 L539.15,81.96 L539.65,82.11 L540.15,82.26 L540.65,82.41 L541.15,82.55 L541.65,82.70 L542.15,82.85 L542.65,82.99 L543.15,83.14 L543.65,83.29 L544.15,83.43 L544.65,83.58 L545.15,83.73 L545.65,83.87 L546.15,84.02 L546.65,84.17 L547.15,84.32 L547.65,84.46 L548.15,84.61 L548.65,84.76 L549.15,84.91 L549.65,85.05 L550.15,85.20 L550.65,85.35 L551.15,85.50 L551.65,85.64 L552.15,85.79 L552.65,85.94 L553.15,86.09 L553.65,86.23 L554.15,86.38 L554.65,86.53 L555.15,86.68 L555.65,86.83 L556.15,86.98 L556.65,87.13 L557.15,87.27 L557.65,87.42 L558.15,87.57 L558.65,87.72 L559.15,87.87 L559.65,88.02 L560.15,88.17 L560.65,88.32 L561.15,88.47 L561.65,88.62 L562.15,88.77 L562.65,88.92 L563.15,89.08 L563.65,89.23 L564.15,89.38 L564.65,89.53 L565.15,89.68 L565.65,89.84 L566.15,89.99 L566.65,90.14 L567.15,90.30 L567.65,90.45 L568.15,90.61 L568.65,90.76 L569.15,90.92 L569.65,91.08 L570.15,91.23 L570.65,91.39 L571.15,91.55 L571.65,91.71 L572.15,91.87 L572.65,92.03 L573.15,92.20 L573.65,92.36 L574.15,92.52 L574.65,92.69 L575.15,92.85 L575.65,93.02 L576.15,93.19 L576.65,93.36 L577.15,93.53 L577.65,93.71 L578.15,93.88 L578.65,94.06 L579.15,94.23 L579.65,94.41 L580.15,94.60 L580.65,94.78 L581.15,94.97 L581.65,95.16 L582.15,95.35 L582.65,95.54 L583.15,95.74 L583.65,95.94 L584.15,96.14 L584.65,96.35 L585.15,96.56 L585.65,96.77 L586.15,96.99 L586.65,97.21 L587.15,97.44 L587.65,97.67 L588.15,97.91 L588.65,98.15 L589.15,98.40 L589.65,98.66 L590.15,98.92 L590.65,99.19 L591.15,99.46 L591.65,99.74 L592.15,100.04 L592.65,100.34 L593.15,100.65 L593.65,100.96 L594.15,101.29 L594.65,101.63 L595.15,101.99 L595.65,102.35 L596.15,102.73 L596.65,103.12 L597.15,103.53 L597.65,103.95 L598.15,104.39 L598.65,104.84 L599.15,105.32 L599.65,105.81 L600.15,106.33 L600.65,106.86 L601.15,107.42 L601.65,108.01 L602.15,108.62 L602.65,109.26 L603.15,109.93 L603.65,110.63 L604.15,111.37 L604.65,112.14 L604.80,112.38" fill="none" stroke="#000" stroke-width="1.3" stroke-linejoin="round" stroke-linecap="butt" />
<path d="M508.65,35.68 L509.15,36.46 L509.65,37.23 L510.15,37.98 L510.65,38.70 L511.15,39.41 L511.65,40.09 L512.15,40.76 L512.65,41.41 L513.15,42.05 L513.65,42.67 L514.15,43.28 L514.65,43.87 L515.15,44.45 L515.65,45.01 L516.15,45.56 L516.65,46.10 L517.15,46.63 L517.65,47.15 L518.15,47.66 L518.65,48.16 L519.15,48.64 L519.65,49.12 L520.15,49.59 L520.65,50.06 L521.15,50.51 L521.65,50.96 L522.15,51.39 L522.65,51.83 L523.15,52.25 L523.65,52.67 L524.15,53.08 L524.65,53.49 L525.15,53.89 L525.65,54.29 L526.15,54.68 L526.65,55.06 L527.15,55.44 L527.65,55.82 L528.15,56.19 L528.65,56.56 L529.15,56.92 L529.65,57.28 L530.15,57.64 L530.65,57.99 L531.15,58.34 L531.65,58.69 L532.15,59.03 L532.65,59.37 L533.15,59.71 L533.65,60.04 L534.15,60.38 L534.65,60.71 L535.15,61.03 L535.65,61.36 L536.15,61.68 L536.65,62.01 L537.15,62.32 L537.65,62.64 L538.15,62.96 L538.65,63.27 L539.15,63.58 L539.65,63.90 L540.15,64.20 L540.65,64.51 L541.15,64.82 L541.65,65.12 L542.15,65.43 L542.65,65.73 L543.15,66.03 L543.65,66.33 L544.15,66.63 L544.65,66.93 L545.15,67.23 L545.65,67.53 L546.15,67.82 L546.65,68.12 L547.15,68.41 L547.65,68.71 L548.15,69.00 L548.65,69.29 L549.15,69.58 L549.65,69.87 L550.15,70.16 L550.65,70.45 L551.15,70.74 L551.65,71.03 L552.15,71.32 L552.65,71.61 L553.15,71.89 L553.65,72.18 L554.15,72.47 L554.65,72.75 L555.15,73.04 L555.65,73.33 L556.15,73.61 L556.65,73.90 L557.15,74.18 L557.65,74.47 L558.15,74.75 L558.65,75.03 L559.15,75.32 L559.65,75.60 L560.15,75.89 L560.65,76.17 L561.15,76.45 L561.65,76.74 L562.15,77.02 L562.65,77.30 L563.15,77.59 L563.65,77.87 L564.15,78.15 L564.65,78.44 L565.15,78.72 L565.65,79.00 L566.15,79.29 L566.65,79.57 L567.15,79.86 L567.65,80.14 L568.15,80.43 L568.65,80.71 L569.15,81.00 L569.65,81.28 L570.15,81.57 L570.65,81.86 L571.15,82.14 L571.65,82.43 L572.15,82.72 L572.65,83.01 L573.15,83.30 L573.65,83.59 L574.15,83.88 L574.65,84.17 L575.15,84.47 L575.65,84.76 L576.15,85.05 L576.65,85.35 L577.15,85.65 L577.65,85.95 L578.15,86.25 L578.65,86.55 L579.15,86.85 L579.65,87.16 L580.15,87.46 L580.65,87.77 L581.15,88.08 L581.65,88.40 L582.15,88.71 L582.65,89.03 L583.15,89.35 L583.65,89.68 L584.15,90.01 L584.65,90.34 L585.15,90.67 L585.65,91.01 L586.15,91.35 L586.65,91.70 L587.15,92.05 L587.65,92.41 L588.15,92.77 L588.65,93.14 L589.15,93.52 L589.65,93.90 L590.15,94.29 L590.65,94.69 L591.15,95.09 L591.65,95.51 L592.15,95.93 L592.65,96.36 L593.15,96.81 L593.65,97.26 L594.15,97.73 L594.65,98.21 L595.15,98.71 L595.65,99.22 L596.15,99.74 L596.65,100.29 L597.15,100.85 L597.65,101.43 L598.15,102.03 L598.65,102.65 L599.15,103.30 L599.65,103.97 L600.15,104.67 L600.65,105.40 L601.15,106.16 L601.65,106.96 L602.15,107.78 L602.65,108.65 L603.15,109.56 L603.65,110.51 L604.15,111.50 L604.65,112.55 L604.80,112.87 L604.80,112.50 L605.80,113.44 L606.80,114.28 L607.80,114.95 L608.80,115.44 L609.80,115.86 L610.80,116.23 L611.80,116.56 L612.80,116.85 L613.80,117.12 L614.80,117.38 L615.80,117.61 L616.80,117.83 L617.80,118.02 L618.80,118.20 L619.80,118.37 L620.80,118.52 L621.80,118.66 L622.80,118.79 L623.80,118.92 L624.80,119.04 L625.80,119.15 L626.80,119.26 L627.80,119.37 L628.80,119.47 L629.80,119.57 L630.80,119.67 L631.80,119.78 L632.80,119.88 L633.80,119.98 L634.80,120.07 L635.80,120.17 L636.80,120.27 L637.80,120.37 L638.80,120.46 L639.80,120.55 L640.80,120.65 L641.80,120.74 L642.80,120.83 L643.80,120.91 L644.80,121.00 L645.80,121.09 L646.80,121.17 L647.80,121.25 L648.80,121.33 L649.80,121.41 L650.80,121.48 L651.80,121.56 L652.80,121.63 L653.80,121.70 L654.80,121.77 L655.80,121.83 L656.80,121.89 L657.80,121.95 L658.60,122.00" fill="none" stroke="#0a0af0" stroke-width="1.6" stroke-linejoin="round" stroke-linecap="butt" />
<path d="M509.25,35.08 L509.75,35.86 L510.25,36.63 L510.75,37.38 L511.25,38.10 L511.75,38.81 L512.25,39.49 L512.75,40.16 L513.25,40.81 L513.75,41.45 L514.25,42.07 L514.75,42.68 L515.25,43.27 L515.75,43.85 L516.25,44.41 L516.75,44.96 L517.25,45.50 L517.75,46.03 L518.25,46.55 L518.75,47.06 L519.25,47.56 L519.75,48.04 L520.25,48.52 L520.75,48.99 L521.25,49.46 L521.75,49.91 L522.25,50.36 L522.75,50.79 L523.25,51.23 L523.75,51.65 L524.25,52.07 L524.75,52.48 L525.25,52.89 L525.75,53.29 L526.25,53.69 L526.75,54.08 L527.25,54.46 L527.75,54.84 L528.25,55.22 L528.75,55.59 L529.25,55.96 L529.75,56.32 L530.25,56.68 L530.75,57.04 L531.25,57.39 L531.75,57.74 L532.25,58.09 L532.75,58.43 L533.25,58.77 L533.75,59.11 L534.25,59.44 L534.75,59.78 L535.25,60.11 L535.75,60.43 L536.25,60.76 L536.75,61.08 L537.25,61.41 L537.75,61.72 L538.25,62.04 L538.75,62.36 L539.25,62.67 L539.75,62.98 L540.25,63.30 L540.75,63.60 L541.25,63.91 L541.75,64.22 L542.25,64.52 L542.75,64.83 L543.25,65.13 L543.75,65.43 L544.25,65.73 L544.75,66.03 L545.25,66.33 L545.75,66.63 L546.25,66.93 L546.75,67.22 L547.25,67.52 L547.75,67.81 L548.25,68.11 L548.75,68.40 L549.25,68.69 L549.75,68.98 L550.25,69.27 L550.75,69.56 L551.25,69.85 L551.75,70.14 L552.25,70.43 L552.75,70.72 L553.25,71.01 L553.75,71.29 L554.25,71.58 L554.75,71.87 L555.25,72.15 L555.75,72.44 L556.25,72.73 L556.75,73.01 L557.25,73.30 L557.75,73.58 L558.25,73.87 L558.75,74.15 L559.25,74.43 L559.75,74.72 L560.25,75.00 L560.75,75.29 L561.25,75.57 L561.75,75.85 L562.25,76.14 L562.75,76.42 L563.25,76.70 L563.75,76.99 L564.25,77.27 L564.75,77.55 L565.25,77.84 L565.75,78.12 L566.25,78.40 L566.75,78.69 L567.25,78.97 L567.75,79.26 L568.25,79.54 L568.75,79.83 L569.25,80.11 L569.75,80.40 L570.25,80.68 L570.75,80.97 L571.25,81.26 L571.75,81.54 L572.25,81.83 L572.75,82.12 L573.25,82.41 L573.75,82.70 L574.25,82.99 L574.75,83.28 L575.25,83.57 L575.75,83.87 L576.25,84.16 L576.75,84.45 L577.25,84.75 L577.75,85.05 L578.25,85.35 L578.75,85.65 L579.25,85.95 L579.75,86.25 L580.25,86.56 L580.75,86.86 L581.25,87.17 L581.75,87.48 L582.25,87.80 L582.75,88.11 L583.25,88.43 L583.75,88.75 L584.25,89.08 L584.75,89.41 L585.25,89.74 L585.75,90.07 L586.25,90.41 L586.75,90.75 L587.25,91.10 L587.75,91.45 L588.25,91.81 L588.75,92.17 L589.25,92.54 L589.75,92.92 L590.25,93.30 L590.75,93.69 L591.25,94.09 L591.75,94.49 L592.25,94.91 L592.75,95.33 L593.25,95.76 L593.75,96.21 L594.25,96.66 L594.75,97.13 L595.25,97.61 L595.75,98.11 L596.25,98.62 L596.75,99.14 L597.25,99.69 L597.75,100.25 L598.25,100.83 L598.75,101.43 L599.25,102.05 L599.75,102.70 L600.25,103.37 L600.75,104.07 L601.25,104.80 L601.75,105.56 L602.25,106.36 L602.75,107.18 L603.25,108.05 L603.75,108.96 L604.25,109.91 L604.75,110.90 L605.25,111.95 L605.40,112.27 L605.40,111.90 L606.40,112.84 L607.40,113.68 L608.40,114.35 L609.40,114.84 L610.40,115.26 L611.40,115.63 L612.40,115.96 L613.40,116.25 L614.40,116.52 L615.40,116.78 L616.40,117.01 L617.40,117.23 L618.40,117.42 L619.40,117.60 L620.40,117.77 L621.40,117.92 L622.40,118.06 L623.40,118.19 L624.40,118.32 L625.40,118.44 L626.40,118.55 L627.40,118.66 L628.40,118.77 L629.40,118.87 L630.40,118.97 L631.40,119.07 L632.40,119.18 L633.40,119.28 L634.40,119.38 L635.40,119.47 L636.40,119.57 L637.40,119.67 L638.40,119.77 L639.40,119.86 L640.40,119.95 L641.40,120.05 L642.40,120.14 L643.40,120.23 L644.40,120.31 L645.40,120.40 L646.40,120.49 L647.40,120.57 L648.40,120.65 L649.40,120.73 L650.40,120.81 L651.40,120.88 L652.40,120.96 L653.40,121.03 L654.40,121.10 L655.40,121.17 L656.40,121.23 L657.40,121.29 L658.40,121.35 L659.20,121.40" fill="none" stroke="#f00000" stroke-width="1.4" stroke-linejoin="round" stroke-linecap="butt" />
<text x="0" y="0" text-anchor="middle" font-size="13.8" transform="translate(474.8,86.6) rotate(-90)">Length (µm)</text>
<text x="465.8" y="189.6" text-anchor="start" font-size="16" font-weight="bold" >F</text>
<line x1="510.0" y1="188.75" x2="510.0" y2="312.3" stroke="#000" stroke-width="1.1"/>
<line x1="509.5" y1="312.3" x2="663.5" y2="312.3" stroke="#000" stroke-width="1.1"/>
<line x1="510.0" y1="189.6" x2="512.5" y2="189.6" stroke="#000" stroke-width="1"/>
<line x1="510.0" y1="220.5" x2="512.5" y2="220.5" stroke="#000" stroke-width="1"/>
<line x1="510.0" y1="251.2" x2="512.5" y2="251.2" stroke="#000" stroke-width="1"/>
<line x1="510.0" y1="281.9" x2="512.5" y2="281.9" stroke="#000" stroke-width="1"/>
<line x1="510.0" y1="312.3" x2="512.5" y2="312.3" stroke="#000" stroke-width="1"/>
<line x1="510.3" y1="312.3" x2="510.3" y2="309.8" stroke="#000" stroke-width="1"/>
<line x1="561.1" y1="312.3" x2="561.1" y2="309.8" stroke="#000" stroke-width="1"/>
<line x1="612.2" y1="312.3" x2="612.2" y2="309.8" stroke="#000" stroke-width="1"/>
<line x1="663.25" y1="312.3" x2="663.25" y2="309.8" stroke="#000" stroke-width="1"/>
<text x="502" y="194.2" text-anchor="end" font-size="13.8" font-weight="normal" >2.0</text>
<text x="502" y="225.1" text-anchor="end" font-size="13.8" font-weight="normal" >1.5</text>
<text x="502" y="255.79999999999998" text-anchor="end" font-size="13.8" font-weight="normal" >1.0</text>
<text x="502" y="286.5" text-anchor="end" font-size="13.8" font-weight="normal" >0.5</text>
<text x="502" y="316.90000000000003" text-anchor="end" font-size="13.8" font-weight="normal" >0.0</text>
<text x="512.0" y="331" text-anchor="middle" font-size="13.8" font-weight="normal" >0</text>
<text x="562.8000000000001" y="331" text-anchor="middle" font-size="13.8" font-weight="normal" >0.05</text>
<text x="613.9000000000001" y="331" text-anchor="middle" font-size="13.8" font-weight="normal" >0.1</text>
<text x="664.95" y="331" text-anchor="middle" font-size="13.8" font-weight="normal" >0.15</text>
<path d="M510.30,240.90 L510.80,240.98 L511.30,241.07 L511.80,241.15 L512.30,241.23 L512.80,241.32 L513.30,241.40 L513.80,241.49 L514.30,241.57 L514.80,241.66 L515.30,241.75 L515.80,241.84 L516.30,241.93 L516.80,242.02 L517.30,242.11 L517.80,242.21 L518.30,242.30 L518.80,242.40 L519.30,242.49 L519.80,242.59 L520.30,242.69 L520.80,242.79 L521.30,242.90 L521.80,243.00 L522.30,243.11 L522.80,243.22 L523.30,243.33 L523.80,243.44 L524.30,243.55 L524.80,243.67 L525.30,243.78 L525.80,243.90 L526.30,244.03 L526.80,244.15 L527.30,244.28 L527.80,244.41 L528.30,244.54 L528.80,244.68 L529.30,244.81 L529.80,244.95 L530.30,245.10 L530.80,245.25 L531.30,245.40 L531.80,245.55 L532.30,245.71 L532.80,245.87 L533.30,246.03 L533.80,246.20 L534.30,246.37 L534.80,246.55 L535.30,246.73 L535.80,246.91 L536.30,247.10 L536.80,247.30 L537.30,247.50 L537.80,247.70 L538.30,247.91 L538.80,248.12 L539.30,248.34 L539.80,248.56 L540.30,248.79 L540.80,249.02 L541.30,249.26 L541.80,249.51 L542.30,249.76 L542.80,250.01 L543.30,250.28 L543.80,250.54 L544.30,250.82 L544.80,251.09 L545.30,251.38 L545.80,251.67 L546.30,251.96 L546.80,252.26 L547.30,252.57 L547.80,252.88 L548.30,253.20 L548.80,253.52 L549.30,253.85 L549.80,254.18 L550.30,254.52 L550.80,254.86 L551.30,255.20 L551.80,255.55 L552.30,255.91 L552.80,256.27 L553.30,256.63 L553.80,256.99 L554.30,257.36 L554.80,257.73 L555.30,258.10 L555.80,258.48 L556.30,258.86 L556.80,259.23 L557.30,259.61 L557.80,259.99 L558.30,260.37 L558.80,260.75 L559.30,261.13 L559.80,261.51 L560.30,261.89 L560.80,262.27 L561.30,262.64 L561.80,263.01 L562.30,263.38 L562.80,263.75 L563.30,264.12 L563.80,264.48 L564.30,264.84 L564.80,265.19 L565.30,265.54 L565.80,265.89 L566.30,266.23 L566.80,266.57 L567.30,266.90 L567.80,267.23 L568.30,267.55 L568.80,267.87 L569.30,268.18 L569.80,268.49 L570.30,268.79 L570.80,269.09 L571.30,269.38 L571.80,269.66 L572.30,269.94 L572.80,270.21 L573.30,270.48 L573.80,270.74 L574.30,271.00 L574.80,271.25 L575.30,271.49 L575.80,271.73 L576.30,271.97 L576.80,272.20 L577.30,272.42 L577.80,272.64 L578.30,272.85 L578.80,273.06 L579.30,273.26 L579.80,273.46 L580.30,273.66 L580.80,273.85 L581.30,274.03 L581.80,274.21 L582.30,274.39 L582.80,274.56 L583.30,274.73 L583.80,274.90 L584.30,275.06 L584.80,275.22 L585.30,275.37 L585.80,275.52 L586.30,275.67 L586.80,275.81 L587.30,275.95 L587.80,276.09 L588.30,276.23 L588.80,276.36 L589.30,276.49 L589.80,276.62 L590.30,276.74 L590.80,276.86 L591.30,276.98 L591.80,277.10 L592.30,277.22 L592.80,277.33 L593.30,277.44 L593.80,277.55 L594.30,277.66 L594.80,277.77 L595.30,277.87 L595.80,277.98 L596.30,278.08 L596.80,278.18 L597.30,278.28 L597.80,278.37 L598.30,278.47 L598.80,278.56 L599.30,278.66 L599.80,278.75 L600.30,278.84 L600.80,278.93 L601.30,279.02 L601.80,279.11 L602.30,279.20 L602.80,279.28 L603.30,279.37 L603.80,279.46 L604.30,279.54 L604.80,279.62 L605.30,279.71 L605.80,279.79 L606.30,279.87 L606.80,279.95 L607.30,280.03 L607.80,280.11 L608.30,280.19 L608.80,280.27 L609.30,280.35 L609.80,280.42 L610.30,280.50 L610.80,280.58 L611.30,280.66 L611.80,280.73 L612.30,280.81 L612.80,280.88 L613.30,280.96 L613.80,281.03 L614.30,281.11 L614.80,281.18 L615.30,281.25 L615.80,281.33 L616.30,281.40 L616.80,281.47 L617.30,281.55 L617.80,281.62 L618.30,281.69 L618.80,281.76 L619.30,281.84 L619.80,281.91 L620.30,281.98 L620.80,282.05 L621.30,282.12 L621.80,282.19 L622.30,282.26 L622.80,282.33 L623.30,282.41 L623.80,282.48 L624.30,282.55 L624.80,282.62 L625.30,282.69 L625.80,282.76 L626.30,282.83 L626.80,282.90 L627.30,282.97 L627.80,283.04 L628.30,283.11 L628.80,283.18 L629.30,283.25 L629.80,283.31 L630.30,283.38 L630.80,283.45 L631.30,283.52 L631.80,283.59 L632.30,283.66 L632.80,283.73 L633.30,283.80 L633.80,283.87 L634.30,283.94 L634.80,284.01 L635.30,284.07 L635.80,284.14 L636.30,284.21 L636.80,284.28 L637.30,284.35 L637.80,284.42 L638.30,284.49 L638.80,284.55 L639.30,284.62 L639.80,284.69 L640.30,284.76 L640.80,284.83 L641.30,284.90 L641.80,284.97 L642.30,285.03 L642.80,285.10 L643.30,285.17 L643.80,285.24 L644.30,285.31 L644.80,285.38 L645.30,285.44 L645.80,285.51 L646.30,285.58 L646.80,285.65 L647.30,285.72 L647.80,285.78 L648.30,285.85 L648.80,285.92 L649.30,285.99 L649.80,286.06 L650.30,286.13 L650.80,286.19 L651.30,286.26 L651.80,286.33 L652.30,286.40 L652.80,286.47 L653.30,286.53 L653.80,286.60 L654.30,286.67 L654.80,286.74 L655.30,286.81 L655.80,286.87 L656.30,286.94 L656.80,287.01 L657.30,287.08 L657.80,287.15 L658.30,287.21 L658.80,287.28 L659.30,287.35 L659.80,287.42 L660.30,287.49 L660.80,287.55 L661.30,287.62 L661.80,287.69 L662.30,287.76 L662.80,287.83 L663.30,287.89 L663.40,287.91" fill="none" stroke="#000" stroke-width="1.3" stroke-linejoin="round" stroke-linecap="butt" />
<path d="M510.20,200.54 L510.70,201.73 L511.20,202.84 L511.70,203.89 L512.20,204.88 L512.70,205.82 L513.20,206.71 L513.70,207.56 L514.20,208.38 L514.70,209.16 L515.20,209.92 L515.70,210.65 L516.20,211.36 L516.70,212.05 L517.20,212.72 L517.70,213.38 L518.20,214.03 L518.70,214.66 L519.20,215.28 L519.70,215.90 L520.20,216.51 L520.70,217.10 L521.20,217.70 L521.70,218.29 L522.20,218.87 L522.70,219.45 L523.20,220.02 L523.70,220.59 L524.20,221.16 L524.70,221.73 L525.20,222.29 L525.70,222.85 L526.20,223.41 L526.70,223.97 L527.20,224.52 L527.70,225.08 L528.20,225.63 L528.70,226.18 L529.20,226.73 L529.70,227.28 L530.20,227.83 L530.70,228.38 L531.20,228.93 L531.70,229.47 L532.20,230.02 L532.70,230.56 L533.20,231.11 L533.70,231.65 L534.20,232.20 L534.70,232.74 L535.20,233.28 L535.70,233.82 L536.20,234.36 L536.70,234.90 L537.20,235.44 L537.70,235.98 L538.20,236.52 L538.70,237.06 L539.20,237.59 L539.70,238.13 L540.20,238.66 L540.70,239.20 L541.20,239.73 L541.70,240.27 L542.20,240.80 L542.70,241.33 L543.20,241.86 L543.70,242.39 L544.20,242.92 L544.70,243.44 L545.20,243.97 L545.70,244.49 L546.20,245.01 L546.70,245.54 L547.20,246.06 L547.70,246.58 L548.20,247.09 L548.70,247.61 L549.20,248.12 L549.70,248.64 L550.20,249.15 L550.70,249.65 L551.20,250.16 L551.70,250.67 L552.20,251.17 L552.70,251.67 L553.20,252.17 L553.70,252.66 L554.20,253.15 L554.70,253.64 L555.20,254.13 L555.70,254.62 L556.20,255.10 L556.70,255.58 L557.20,256.05 L557.70,256.52 L558.20,256.99 L558.70,257.46 L559.20,257.92 L559.70,258.37 L560.20,258.83 L560.70,259.28 L561.20,259.72 L561.70,260.16 L562.20,260.60 L562.70,261.03 L563.20,261.46 L563.70,261.88 L564.20,262.30 L564.70,262.71 L565.20,263.12 L565.70,263.52 L566.20,263.91 L566.70,264.31 L567.20,264.69 L567.70,265.07 L568.20,265.44 L568.70,265.81 L569.20,266.17 L569.70,266.53 L570.20,266.88 L570.70,267.22 L571.20,267.56 L571.70,267.89 L572.20,268.22 L572.70,268.54 L573.20,268.85 L573.70,269.16 L574.20,269.46 L574.70,269.75 L575.20,270.04 L575.70,270.32 L576.20,270.60 L576.70,270.87 L577.20,271.13 L577.70,271.39 L578.20,271.64 L578.70,271.88 L579.20,272.12 L579.70,272.36 L580.20,272.58 L580.70,272.81 L581.20,273.03 L581.70,273.24 L582.20,273.44 L582.70,273.65 L583.20,273.84 L583.70,274.04 L584.20,274.22 L584.70,274.41 L585.20,274.58 L585.70,274.76 L586.20,274.93 L586.70,275.09 L587.20,275.25 L587.70,275.41 L588.20,275.57 L588.70,275.72 L589.20,275.86 L589.70,276.01 L590.20,276.15 L590.70,276.29 L591.20,276.42 L591.70,276.55 L592.20,276.68 L592.70,276.81 L593.20,276.93 L593.70,277.05 L594.20,277.17 L594.70,277.29 L595.20,277.40 L595.70,277.51 L596.20,277.62 L596.70,277.73 L597.20,277.84 L597.70,277.94 L598.20,278.04 L598.70,278.15 L599.20,278.25 L599.70,278.34 L600.20,278.44 L600.70,278.54 L601.20,278.63 L601.70,278.72 L602.20,278.82 L602.70,278.91 L603.20,279.00 L603.70,279.09 L604.20,279.17 L604.70,279.26 L605.20,279.35 L605.70,279.43 L606.20,279.52 L606.70,279.60 L607.20,279.68 L607.70,279.76 L608.20,279.85 L608.70,279.93 L609.20,280.01 L609.70,280.09 L610.20,280.17 L610.70,280.25 L611.20,280.32 L611.70,280.40 L612.20,280.48 L612.70,280.56 L613.20,280.63 L613.70,280.71 L614.20,280.79 L614.70,280.86 L615.20,280.94 L615.70,281.01 L616.20,281.09 L616.70,281.16 L617.20,281.23 L617.70,281.31 L618.20,281.38 L618.70,281.45 L619.20,281.53 L619.70,281.60 L620.20,281.67 L620.70,281.75 L621.20,281.82 L621.70,281.89 L622.20,281.96 L622.70,282.03 L623.20,282.11 L623.70,282.18 L624.20,282.25 L624.70,282.32 L625.20,282.39 L625.70,282.46 L626.20,282.53 L626.70,282.61 L627.20,282.68 L627.70,282.75 L628.20,282.82 L628.70,282.89 L629.20,282.96 L629.70,283.03 L630.20,283.10 L630.70,283.17 L631.20,283.24 L631.70,283.31 L632.20,283.38 L632.70,283.45 L633.20,283.52 L633.70,283.59 L634.20,283.66 L634.70,283.73 L635.20,283.80 L635.70,283.87 L636.20,283.94 L636.70,284.01 L637.20,284.08 L637.70,284.15 L638.20,284.22 L638.70,284.29 L639.20,284.36 L639.70,284.43 L640.20,284.50 L640.70,284.57 L641.20,284.64 L641.70,284.71 L642.20,284.78 L642.70,284.85 L643.20,284.92 L643.70,284.99 L644.20,285.05 L644.70,285.12 L645.20,285.19 L645.70,285.26 L646.20,285.33 L646.70,285.40 L647.20,285.47 L647.70,285.54 L648.20,285.61 L648.70,285.68 L649.20,285.75 L649.70,285.82 L650.20,285.89 L650.70,285.96 L651.20,286.03 L651.70,286.10 L652.20,286.16 L652.70,286.23 L653.20,286.30 L653.70,286.37 L654.20,286.44 L654.70,286.51 L655.20,286.58 L655.70,286.65 L656.20,286.72 L656.70,286.79 L657.20,286.86 L657.70,286.93 L658.20,287.00 L658.70,287.06 L659.20,287.13 L659.70,287.20 L660.20,287.27 L660.70,287.34 L661.20,287.41 L661.70,287.48 L662.20,287.55 L662.70,287.62 L663.20,287.69 L663.40,287.72" fill="none" stroke="#0a0af0" stroke-width="1.6" stroke-linejoin="round" stroke-linecap="butt" />
<path d="M510.80,199.94 L511.30,201.13 L511.80,202.24 L512.30,203.29 L512.80,204.28 L513.30,205.22 L513.80,206.11 L514.30,206.96 L514.80,207.78 L515.30,208.56 L515.80,209.32 L516.30,210.05 L516.80,210.76 L517.30,211.45 L517.80,212.12 L518.30,212.78 L518.80,213.43 L519.30,214.06 L519.80,214.68 L520.30,215.30 L520.80,215.91 L521.30,216.50 L521.80,217.10 L522.30,217.69 L522.80,218.27 L523.30,218.85 L523.80,219.42 L524.30,219.99 L524.80,220.56 L525.30,221.13 L525.80,221.69 L526.30,222.25 L526.80,222.81 L527.30,223.37 L527.80,223.92 L528.30,224.48 L528.80,225.03 L529.30,225.58 L529.80,226.13 L530.30,226.68 L530.80,227.23 L531.30,227.78 L531.80,228.33 L532.30,228.87 L532.80,229.42 L533.30,229.96 L533.80,230.51 L534.30,231.05 L534.80,231.60 L535.30,232.14 L535.80,232.68 L536.30,233.22 L536.80,233.76 L537.30,234.30 L537.80,234.84 L538.30,235.38 L538.80,235.92 L539.30,236.46 L539.80,236.99 L540.30,237.53 L540.80,238.06 L541.30,238.60 L541.80,239.13 L542.30,239.67 L542.80,240.20 L543.30,240.73 L543.80,241.26 L544.30,241.79 L544.80,242.32 L545.30,242.84 L545.80,243.37 L546.30,243.89 L546.80,244.41 L547.30,244.94 L547.80,245.46 L548.30,245.98 L548.80,246.49 L549.30,247.01 L549.80,247.52 L550.30,248.04 L550.80,248.55 L551.30,249.05 L551.80,249.56 L552.30,250.07 L552.80,250.57 L553.30,251.07 L553.80,251.57 L554.30,252.06 L554.80,252.55 L555.30,253.04 L555.80,253.53 L556.30,254.02 L556.80,254.50 L557.30,254.98 L557.80,255.45 L558.30,255.92 L558.80,256.39 L559.30,256.86 L559.80,257.32 L560.30,257.77 L560.80,258.23 L561.30,258.68 L561.80,259.12 L562.30,259.56 L562.80,260.00 L563.30,260.43 L563.80,260.86 L564.30,261.28 L564.80,261.70 L565.30,262.11 L565.80,262.52 L566.30,262.92 L566.80,263.31 L567.30,263.71 L567.80,264.09 L568.30,264.47 L568.80,264.84 L569.30,265.21 L569.80,265.57 L570.30,265.93 L570.80,266.28 L571.30,266.62 L571.80,266.96 L572.30,267.29 L572.80,267.62 L573.30,267.94 L573.80,268.25 L574.30,268.56 L574.80,268.86 L575.30,269.15 L575.80,269.44 L576.30,269.72 L576.80,270.00 L577.30,270.27 L577.80,270.53 L578.30,270.79 L578.80,271.04 L579.30,271.28 L579.80,271.52 L580.30,271.76 L580.80,271.98 L581.30,272.21 L581.80,272.43 L582.30,272.64 L582.80,272.84 L583.30,273.05 L583.80,273.24 L584.30,273.44 L584.80,273.62 L585.30,273.81 L585.80,273.98 L586.30,274.16 L586.80,274.33 L587.30,274.49 L587.80,274.65 L588.30,274.81 L588.80,274.97 L589.30,275.12 L589.80,275.26 L590.30,275.41 L590.80,275.55 L591.30,275.69 L591.80,275.82 L592.30,275.95 L592.80,276.08 L593.30,276.21 L593.80,276.33 L594.30,276.45 L594.80,276.57 L595.30,276.69 L595.80,276.80 L596.30,276.91 L596.80,277.02 L597.30,277.13 L597.80,277.24 L598.30,277.34 L598.80,277.44 L599.30,277.55 L599.80,277.65 L600.30,277.74 L600.80,277.84 L601.30,277.94 L601.80,278.03 L602.30,278.12 L602.80,278.22 L603.30,278.31 L603.80,278.40 L604.30,278.49 L604.80,278.57 L605.30,278.66 L605.80,278.75 L606.30,278.83 L606.80,278.92 L607.30,279.00 L607.80,279.08 L608.30,279.16 L608.80,279.25 L609.30,279.33 L609.80,279.41 L610.30,279.49 L610.80,279.57 L611.30,279.65 L611.80,279.72 L612.30,279.80 L612.80,279.88 L613.30,279.96 L613.80,280.03 L614.30,280.11 L614.80,280.19 L615.30,280.26 L615.80,280.34 L616.30,280.41 L616.80,280.49 L617.30,280.56 L617.80,280.63 L618.30,280.71 L618.80,280.78 L619.30,280.85 L619.80,280.93 L620.30,281.00 L620.80,281.07 L621.30,281.15 L621.80,281.22 L622.30,281.29 L622.80,281.36 L623.30,281.43 L623.80,281.51 L624.30,281.58 L624.80,281.65 L625.30,281.72 L625.80,281.79 L626.30,281.86 L626.80,281.93 L627.30,282.01 L627.80,282.08 L628.30,282.15 L628.80,282.22 L629.30,282.29 L629.80,282.36 L630.30,282.43 L630.80,282.50 L631.30,282.57 L631.80,282.64 L632.30,282.71 L632.80,282.78 L633.30,282.85 L633.80,282.92 L634.30,282.99 L634.80,283.06 L635.30,283.13 L635.80,283.20 L636.30,283.27 L636.80,283.34 L637.30,283.41 L637.80,283.48 L638.30,283.55 L638.80,283.62 L639.30,283.69 L639.80,283.76 L640.30,283.83 L640.80,283.90 L641.30,283.97 L641.80,284.04 L642.30,284.11 L642.80,284.18 L643.30,284.25 L643.80,284.32 L644.30,284.39 L644.80,284.45 L645.30,284.52 L645.80,284.59 L646.30,284.66 L646.80,284.73 L647.30,284.80 L647.80,284.87 L648.30,284.94 L648.80,285.01 L649.30,285.08 L649.80,285.15 L650.30,285.22 L650.80,285.29 L651.30,285.36 L651.80,285.43 L652.30,285.50 L652.80,285.56 L653.30,285.63 L653.80,285.70 L654.30,285.77 L654.80,285.84 L655.30,285.91 L655.80,285.98 L656.30,286.05 L656.80,286.12 L657.30,286.19 L657.80,286.26 L658.30,286.33 L658.80,286.40 L659.30,286.46 L659.80,286.53 L660.30,286.60 L660.80,286.67 L661.30,286.74 L661.80,286.81 L662.30,286.88 L662.80,286.95 L663.30,287.02 L663.80,287.09 L664.00,287.12" fill="none" stroke="#f00000" stroke-width="1.4" stroke-linejoin="round" stroke-linecap="butt" />
<text x="0" y="0" text-anchor="middle" font-size="13.8" transform="translate(474.8,251.25) rotate(-90)">Length (µm)</text>
<text x="577.5" y="352" text-anchor="middle" font-size="13.8" font-weight="normal" >External force (nN/µm)</text>
</svg>
</body></html>
